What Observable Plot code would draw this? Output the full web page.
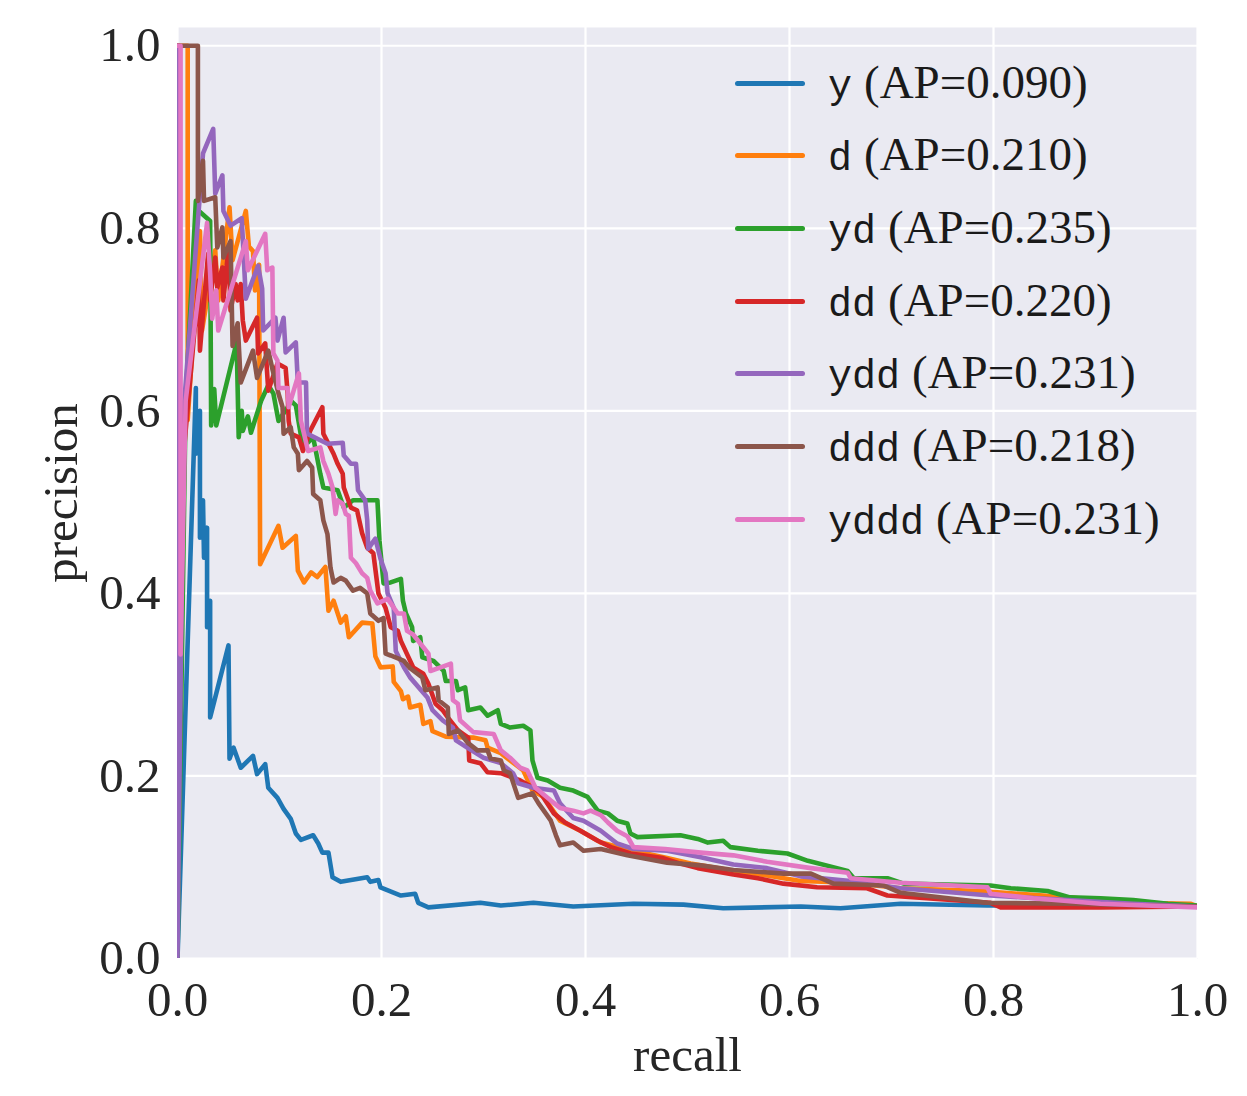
<!DOCTYPE html>
<html>
<head>
<meta charset="utf-8">
<script src="https://cdn.jsdelivr.net/npm/d3@7"></script>
<script src="https://cdn.jsdelivr.net/npm/@observablehq/plot@0.6"></script>
<style>
  html, body { margin: 0; padding: 0; background: #ffffff; }
  #wrap { position: relative; width: 1247px; height: 1096px; }
  #legend { position: absolute; left: 0; top: 0; }
  .row { position: absolute; display: flex; align-items: center; height: 60px; white-space: nowrap; }
  .swatch { width: 70px; height: 5px; border-radius: 2.5px; margin-right: 23px; flex: none; }
  .label { display: flex; align-items: baseline; line-height: 1; color: #1a1a1a; }
  .name { font-family: "Liberation Mono", "DejaVu Sans Mono", monospace; font-size: 40px; }
  .ap { font-family: "Liberation Serif", serif; font-size: 47px; margin-left: 12px; }
</style>
</head>
<body>
<div id="wrap"></div>
<script>
// Model variants and their average precision
const models = ["y", "d", "yd", "dd", "ydd", "ddd", "yddd"];
const apScores = [0.090, 0.210, 0.235, 0.220, 0.231, 0.218, 0.231];

// Precision-recall curves, [recall, precision] in drawing order
const curveY = [
  [0,0],[0.018,0.625],[0.018,0.553],[0.022,0.600],[0.022,0.461],[0.025,0.502],[0.026,0.439],
  [0.029,0.472],[0.029,0.363],[0.032,0.392],[0.032,0.264],[0.050,0.343],[0.051,0.219],
  [0.055,0.231],[0.062,0.209],[0.074,0.222],[0.078,0.202],[0.086,0.213],[0.089,0.187],
  [0.098,0.176],[0.104,0.164],[0.111,0.153],[0.116,0.137],[0.121,0.130],[0.133,0.135],
  [0.138,0.126],[0.142,0.116],[0.148,0.116],[0.152,0.089],[0.160,0.084],[0.186,0.089],
  [0.189,0.084],[0.197,0.086],[0.199,0.078],[0.219,0.069],[0.233,0.071],[0.236,0.061],
  [0.246,0.056],[0.297,0.061],[0.317,0.058],[0.349,0.061],[0.388,0.057],[0.447,0.060],
  [0.496,0.059],[0.535,0.055],[0.611,0.057],[0.650,0.055],[0.709,0.060],[0.794,0.058],
  [0.905,0.058],[1.0,0.057]
];
const curveD = [
  [0,1.0],[0.010,1.0],[0.010,0.590],[0.022,0.797],[0.024,0.688],[0.037,0.776],[0.040,0.721],
  [0.051,0.823],[0.054,0.765],[0.067,0.819],[0.070,0.780],[0.074,0.775],[0.076,0.732],
  [0.080,0.760],[0.081,0.432],[0.099,0.474],[0.103,0.450],[0.116,0.463],[0.118,0.425],
  [0.124,0.412],[0.131,0.423],[0.137,0.418],[0.145,0.429],[0.148,0.381],[0.153,0.392],
  [0.160,0.368],[0.165,0.375],[0.168,0.352],[0.181,0.368],[0.191,0.367],[0.194,0.331],
  [0.199,0.319],[0.211,0.320],[0.212,0.303],[0.219,0.293],[0.221,0.284],[0.226,0.287],
  [0.228,0.275],[0.238,0.278],[0.241,0.257],[0.248,0.260],[0.250,0.249],[0.263,0.243],
  [0.290,0.242],[0.302,0.239],[0.304,0.231],[0.317,0.225],[0.326,0.217],[0.339,0.206],
  [0.348,0.184],[0.359,0.177],[0.375,0.151],[0.395,0.140],[0.415,0.127],[0.447,0.118],
  [0.480,0.110],[0.503,0.104],[0.545,0.096],[0.578,0.091],[0.611,0.085],[0.660,0.083],
  [0.709,0.077],[0.787,0.074],[0.872,0.067],[0.937,0.061],[0.993,0.060],[1.0,0.057]
];
const curveYD = [
  [0,1.0],[0,0],[0.008,0.611],[0.018,0.830],[0.021,0.819],[0.032,0.808],[0.033,0.584],
  [0.036,0.624],[0.038,0.584],[0.058,0.675],[0.060,0.571],[0.063,0.600],[0.064,0.578],
  [0.069,0.594],[0.072,0.576],[0.082,0.611],[0.089,0.628],[0.094,0.619],[0.099,0.589],
  [0.108,0.604],[0.111,0.611],[0.116,0.606],[0.123,0.560],[0.133,0.571],[0.140,0.531],
  [0.143,0.516],[0.157,0.513],[0.163,0.494],[0.172,0.502],[0.196,0.502],[0.198,0.458],
  [0.202,0.411],[0.209,0.412],[0.219,0.416],[0.221,0.392],[0.224,0.378],[0.230,0.363],
  [0.231,0.348],[0.238,0.352],[0.240,0.330],[0.251,0.326],[0.261,0.315],[0.263,0.304],
  [0.273,0.304],[0.275,0.294],[0.282,0.297],[0.285,0.272],[0.297,0.275],[0.304,0.266],
  [0.314,0.272],[0.317,0.257],[0.326,0.253],[0.339,0.255],[0.346,0.250],[0.348,0.217],
  [0.353,0.198],[0.363,0.195],[0.375,0.187],[0.388,0.184],[0.402,0.177],[0.412,0.162],
  [0.422,0.159],[0.431,0.151],[0.441,0.148],[0.444,0.137],[0.451,0.133],[0.493,0.135],
  [0.510,0.131],[0.520,0.127],[0.535,0.129],[0.542,0.122],[0.569,0.118],[0.598,0.115],
  [0.618,0.107],[0.657,0.096],[0.663,0.088],[0.696,0.088],[0.712,0.082],[0.797,0.080],
  [0.817,0.077],[0.853,0.074],[0.875,0.067],[0.905,0.066],[0.937,0.064],[0.971,0.060],
  [1.0,0.058]
];
const curveDD = [
  [0,1.0],[0.002,1.0],[0.002,0.502],[0.021,0.743],[0.022,0.666],[0.030,0.772],[0.032,0.721],
  [0.037,0.768],[0.039,0.735],[0.044,0.757],[0.045,0.721],[0.050,0.779],[0.052,0.710],
  [0.057,0.739],[0.059,0.721],[0.062,0.739],[0.064,0.699],[0.067,0.677],[0.078,0.702],
  [0.079,0.663],[0.086,0.674],[0.089,0.622],[0.098,0.652],[0.106,0.647],[0.108,0.619],
  [0.109,0.589],[0.111,0.575],[0.119,0.571],[0.123,0.556],[0.130,0.578],[0.142,0.604],
  [0.143,0.575],[0.153,0.553],[0.157,0.542],[0.162,0.531],[0.163,0.516],[0.170,0.494],
  [0.176,0.491],[0.181,0.466],[0.186,0.450],[0.192,0.444],[0.197,0.400],[0.204,0.384],
  [0.209,0.363],[0.216,0.359],[0.219,0.348],[0.231,0.319],[0.241,0.312],[0.246,0.301],
  [0.253,0.279],[0.260,0.272],[0.265,0.264],[0.275,0.250],[0.285,0.242],[0.286,0.217],
  [0.297,0.214],[0.304,0.204],[0.317,0.203],[0.336,0.195],[0.349,0.187],[0.356,0.181],
  [0.369,0.159],[0.380,0.149],[0.395,0.140],[0.412,0.129],[0.425,0.122],[0.444,0.115],
  [0.476,0.110],[0.493,0.104],[0.510,0.099],[0.545,0.092],[0.569,0.088],[0.594,0.082],
  [0.627,0.078],[0.676,0.077],[0.696,0.069],[0.797,0.061],[0.807,0.056],[0.905,0.056],
  [1.0,0.057]
];
const curveYDD = [
  [0,1.0],[0,0],[0.006,0.600],[0.025,0.882],[0.035,0.909],[0.037,0.838],[0.044,0.858],
  [0.045,0.819],[0.052,0.803],[0.063,0.811],[0.067,0.723],[0.079,0.759],[0.083,0.734],
  [0.084,0.688],[0.096,0.702],[0.098,0.677],[0.104,0.702],[0.106,0.664],[0.116,0.675],
  [0.118,0.631],[0.126,0.631],[0.127,0.575],[0.147,0.564],[0.162,0.565],[0.163,0.551],
  [0.170,0.542],[0.175,0.542],[0.177,0.513],[0.184,0.502],[0.186,0.480],[0.187,0.449],
  [0.194,0.460],[0.199,0.438],[0.204,0.422],[0.206,0.400],[0.212,0.384],[0.214,0.337],
  [0.222,0.319],[0.228,0.308],[0.245,0.286],[0.250,0.272],[0.260,0.261],[0.270,0.253],
  [0.273,0.239],[0.284,0.231],[0.300,0.220],[0.317,0.214],[0.329,0.203],[0.334,0.192],
  [0.349,0.187],[0.369,0.184],[0.375,0.170],[0.388,0.154],[0.398,0.151],[0.415,0.140],
  [0.431,0.126],[0.447,0.120],[0.480,0.118],[0.513,0.111],[0.545,0.103],[0.578,0.099],
  [0.611,0.090],[0.660,0.085],[0.709,0.077],[0.797,0.069],[0.873,0.064],[0.937,0.060],
  [1.0,0.057]
];
const curveDDD = [
  [0,1.0],[0.020,1.0],[0.020,0.830],[0.025,0.874],[0.026,0.830],[0.037,0.834],[0.039,0.779],
  [0.044,0.801],[0.045,0.768],[0.052,0.786],[0.054,0.671],[0.059,0.696],[0.062,0.631],
  [0.074,0.666],[0.078,0.636],[0.089,0.666],[0.093,0.646],[0.099,0.619],[0.103,0.604],
  [0.104,0.575],[0.111,0.582],[0.114,0.560],[0.118,0.553],[0.119,0.535],[0.127,0.545],
  [0.132,0.538],[0.133,0.509],[0.140,0.502],[0.143,0.480],[0.147,0.465],[0.150,0.428],
  [0.153,0.412],[0.160,0.417],[0.165,0.414],[0.172,0.403],[0.179,0.406],[0.186,0.400],
  [0.189,0.378],[0.197,0.370],[0.202,0.373],[0.204,0.334],[0.209,0.332],[0.222,0.326],
  [0.228,0.318],[0.240,0.308],[0.243,0.294],[0.255,0.297],[0.256,0.283],[0.265,0.275],
  [0.266,0.246],[0.275,0.250],[0.284,0.237],[0.294,0.228],[0.304,0.228],[0.307,0.219],
  [0.317,0.217],[0.320,0.206],[0.326,0.203],[0.334,0.176],[0.348,0.181],[0.354,0.170],
  [0.361,0.159],[0.366,0.151],[0.371,0.135],[0.375,0.124],[0.388,0.127],[0.398,0.118],
  [0.415,0.120],[0.441,0.113],[0.480,0.105],[0.513,0.102],[0.545,0.097],[0.594,0.093],
  [0.621,0.093],[0.643,0.082],[0.692,0.080],[0.709,0.072],[0.794,0.061],[0.873,0.060],
  [1.0,0.057]
];
const curveYDDD = [
  [0,1.0],[0.003,1.0],[0.003,0.333],[0.008,0.611],[0.029,0.806],[0.032,0.751],[0.034,0.701],
  [0.038,0.732],[0.040,0.688],[0.067,0.786],[0.069,0.754],[0.086,0.794],[0.088,0.754],
  [0.093,0.757],[0.094,0.663],[0.098,0.655],[0.099,0.625],[0.108,0.625],[0.109,0.604],
  [0.119,0.641],[0.121,0.589],[0.124,0.575],[0.128,0.556],[0.140,0.560],[0.143,0.545],
  [0.148,0.531],[0.152,0.516],[0.155,0.487],[0.157,0.502],[0.162,0.498],[0.165,0.487],
  [0.168,0.485],[0.170,0.439],[0.175,0.433],[0.181,0.422],[0.186,0.417],[0.189,0.403],
  [0.196,0.389],[0.206,0.394],[0.216,0.378],[0.222,0.378],[0.225,0.359],[0.231,0.355],
  [0.241,0.341],[0.246,0.334],[0.248,0.315],[0.258,0.319],[0.268,0.323],[0.270,0.283],
  [0.275,0.279],[0.277,0.261],[0.290,0.248],[0.310,0.246],[0.317,0.228],[0.326,0.220],
  [0.336,0.209],[0.343,0.206],[0.351,0.187],[0.366,0.173],[0.375,0.165],[0.388,0.162],
  [0.398,0.159],[0.405,0.162],[0.415,0.157],[0.422,0.149],[0.431,0.140],[0.441,0.134],
  [0.447,0.122],[0.478,0.120],[0.513,0.116],[0.545,0.113],[0.578,0.106],[0.621,0.099],
  [0.657,0.094],[0.660,0.088],[0.709,0.083],[0.794,0.078],[0.797,0.071],[0.839,0.066],
  [0.905,0.060],[1.0,0.056]
];
const curves = [curveY, curveD, curveYD, curveDD, curveYDD, curveDDD, curveYDDD];

// Axis ticks
const xTicks = [0, 0.2, 0.4, 0.6, 0.8, 1.0];
const yTicks = [0, 0.2, 0.4, 0.6, 0.8, 1.0];

// tab10 colours, one per model
const palette = ["#1f77b4", "#ff7f0e", "#2ca02c", "#d62728", "#9467bd", "#8c564b", "#e377c2"];

const rows = models.flatMap((m, i) =>
  curves[i].map(([recall, precision]) => ({model: m, recall, precision}))
);

const serif = "'Liberation Serif', 'Times New Roman', serif";
const ink = "#262626";

const chart = Plot.plot({
  width: 1247,
  height: 1096,
  marginLeft: 177,
  marginRight: 50,
  marginTop: 27,
  marginBottom: 138,
  style: {fontFamily: serif, fontSize: "49px", color: ink, background: "#ffffff"},
  x: {domain: [0, 1]},
  y: {domain: [0, 1.02]},
  color: {domain: models, range: palette},
  marks: [
    Plot.frame({fill: "#eaeaf2", stroke: "none"}),
    Plot.gridX(xTicks, {stroke: "#ffffff", strokeOpacity: 1, strokeWidth: 2.2}),
    Plot.gridY(yTicks, {stroke: "#ffffff", strokeOpacity: 1, strokeWidth: 2.2}),
    Plot.axisX(xTicks, {
      tickSize: 0, tickPadding: 23, tickFormat: d3.format(".1f"),
      fontSize: 49, fill: ink,
      label: "recall", labelAnchor: "center", labelOffset: 112, labelArrow: "none"
    }),
    Plot.axisY(yTicks, {
      tickSize: 0, tickPadding: 17, tickFormat: d3.format(".1f"),
      fontSize: 49, fill: ink,
      label: "precision", labelAnchor: "center", labelOffset: 135, labelArrow: "none"
    }),
    Plot.line(rows, {
      x: "recall", y: "precision", z: "model", stroke: "model",
      strokeWidth: 4.6, strokeLinejoin: "round", clip: true
    })
  ]
});

const wrap = document.getElementById("wrap");
wrap.appendChild(chart);

// Legend in the upper right of the axes
const legend = document.createElement("div");
legend.id = "legend";
models.forEach((m, i) => {
  const row = document.createElement("div");
  row.className = "row";
  row.style.left = "735px";
  row.style.top = (83 + i * 72.7 - 30) + "px";
  const sw = document.createElement("div");
  sw.className = "swatch";
  sw.style.background = palette[i];
  const label = document.createElement("div");
  label.className = "label";
  const nm = document.createElement("span");
  nm.className = "name";
  nm.textContent = m;
  const ap = document.createElement("span");
  ap.className = "ap";
  ap.textContent = `(AP=${apScores[i].toFixed(3)})`;
  label.append(nm, ap);
  row.append(sw, label);
  legend.appendChild(row);
});
wrap.appendChild(legend);
</script>
</body>
</html>
